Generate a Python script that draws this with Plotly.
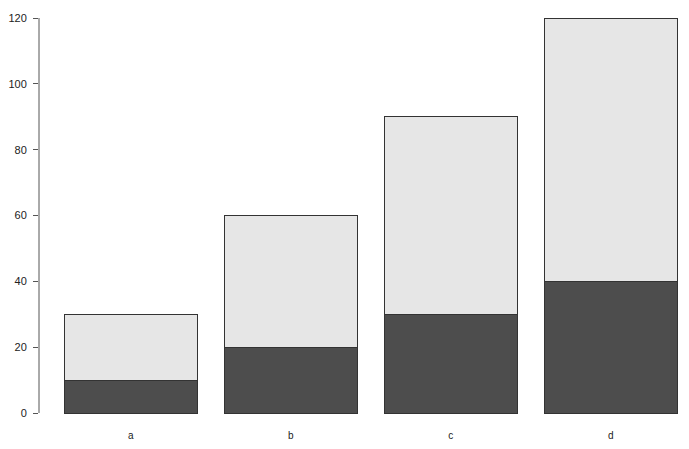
import plotly.graph_objects as go

categories = ["a", "b", "c", "d"]
bottom_values = [10, 20, 30, 40]
top_values = [20, 40, 60, 80]
y_ticks = [0, 20, 40, 60, 80, 100, 120]

fig = go.Figure()
fig.add_trace(go.Bar(x=categories, y=bottom_values,
                     marker=dict(color="#4d4d4d", line=dict(color="#333333", width=1))))
fig.add_trace(go.Bar(x=categories, y=top_values,
                     marker=dict(color="#e6e6e6", line=dict(color="#333333", width=1))))

fig.update_layout(
    width=673, height=433,
    barmode="stack", bargap=1/6,
    showlegend=False,
    plot_bgcolor="white", paper_bgcolor="white",
    margin=dict(l=31, r=0, t=6, b=24),
    font=dict(family="Liberation Sans, Arial, sans-serif", size=11, color="#222222"),
    xaxis=dict(range=[-0.573, 3.4395], showgrid=False, zeroline=False, showline=False,
               ticks="outside", ticklen=9, tickcolor="rgba(0,0,0,0)",
               tickfont=dict(size=10)),
    yaxis=dict(range=[-1.215, 121.215], tickvals=y_ticks, showgrid=False, zeroline=False,
               showline=False, ticks="outside", ticklen=5, tickcolor="#555555",
               tickwidth=1, tickfont=dict(size=11), ticklabelstandoff=4),
)
fig.add_shape(type="line", xref="paper", yref="y", x0=0, x1=0, y0=min(y_ticks), y1=max(y_ticks),
              line=dict(color="#555555", width=1))
fig.write_html("out.html")
